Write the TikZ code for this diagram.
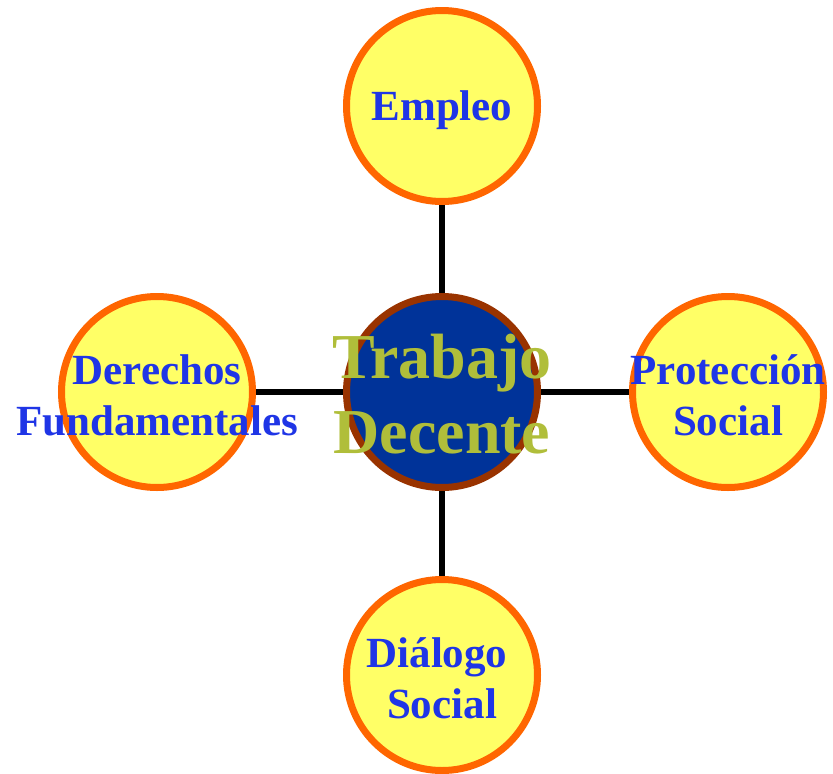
\documentclass[tikz,border=0pt]{standalone}
\usepackage{fontspec}
\setmainfont{Liberation Serif}
\definecolor{bubblefill}{HTML}{FFFF66}
\definecolor{bubbleline}{HTML}{FF6600}
\definecolor{labelblue}{HTML}{1F35E6}
\definecolor{corefill}{HTML}{003399}
\definecolor{coreline}{HTML}{993300}
\definecolor{coretext}{HTML}{B0BE3A}
\tikzset{
  bubble/.style={circle, draw=bubbleline, fill=bubblefill, line width=7pt, minimum size=191pt, inner sep=0pt},
  core/.style={circle, draw=coreline, fill=corefill, line width=7pt, minimum size=191pt, inner sep=0pt},
  lbl/.style={text=labelblue, font=\bfseries\fontsize{43}{51}\selectfont, align=center, inner sep=0pt},
  corelbl/.style={text=coretext, font=\bfseries\fontsize{64}{75}\selectfont, align=center, inner sep=0pt},
  link/.style={draw=black, line width=5.5pt}
}
\begin{document}
\begin{tikzpicture}[x=1pt,y=-1pt]
\useasboundingbox (0,0) rectangle (833,774);
\node[core] (td) at (442,392) {};
\node[bubble] (emp) at (442,106) {};
\node[bubble] (der) at (157,392) {};
\node[bubble] (pro) at (728,392) {};
\node[bubble] (dia) at (442,675) {};
\draw[link] (emp) -- (td);
\draw[link] (der) -- (td);
\draw[link] (pro) -- (td);
\draw[link] (dia) -- (td);
\node[lbl, yshift=-4pt] (tEmp) at (emp) {Empleo};
\node[lbl, yshift=-3pt] (tDer) at (der) {Derechos\\Fundamentales};
\node[lbl, yshift=-3pt] (tPro) at (pro) {Protección\\Social};
\node[lbl, yshift=-3pt] (tDia) at (dia) {Diálogo\hspace*{10pt}\\Social};
\node[corelbl, yshift=-2pt] (tTd) at (td) {Trabajo\\Decente};
\end{tikzpicture}
\end{document}
